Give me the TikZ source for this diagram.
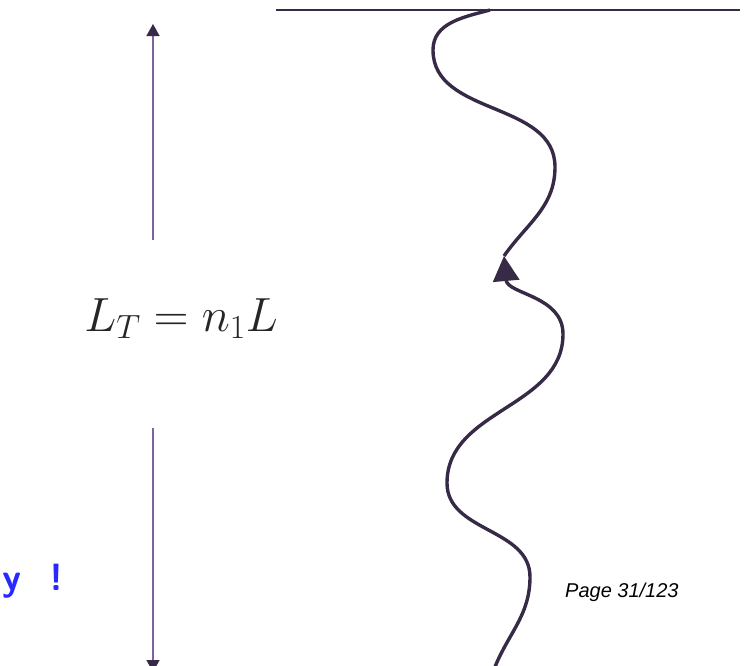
\RequirePackage{fix-cm}
\documentclass[tikz,border=0pt]{standalone}
\usepackage{fontspec}
\newfontfamily\pagefont{Liberation Sans}
\usetikzlibrary{arrows.meta}
\definecolor{curvecol}{RGB}{55,42,70}
\definecolor{guidecol}{RGB}{125,100,150}
\definecolor{bluetxt}{RGB}{40,40,255}
\tikzset{
  wave/.style={curvecol, line width=3.4pt},
  guide/.style={guidecol, line width=1.6pt},
  topline/.style={curvecol, line width=2.2pt},
}
\begin{document}
\begin{tikzpicture}[x=1pt,y=1pt]
\useasboundingbox (0,-665) rectangle (750,0);
% top horizontal line
\coordinate (hl) at (276,-10);
\coordinate (hr) at (740,-10);
\draw[topline] (hl) -- (hr);
% wavy path
\coordinate (w0) at (493,-672);
\coordinate (w1) at (530,-577);
\coordinate (w2) at (447,-483);
\coordinate (w3) at (563,-334);
\coordinate (tip) at (504,-256);
\coordinate (w5) at (555,-167);
\coordinate (w6) at (433,-50);
\coordinate (w7) at (490,-10);
\draw[wave, -{Triangle[length=25pt,width=26pt]}]
  (w0) to[out=70,in=-90] (w1)
       to[out=90,in=-90] (w2)
       to[out=90,in=-90] (w3)
       to[out=90,in=-85] (tip);
\draw[wave]
  (tip) to[out=55,in=-90] (w5)
        to[out=90,in=-90] (w6)
        to[out=90,in=195] (w7);
% left dimension arrows
\coordinate (a1) at (153,-240);
\coordinate (a1t) at (153,-24);
\coordinate (a2) at (153,-428);
\coordinate (a2t) at (153,-672);
\draw[guide, -{Triangle[length=12pt,width=13pt,color=curvecol]}] (a1) -- (a1t);
\draw[guide, -{Triangle[length=12pt,width=13pt,color=curvecol]}] (a2) -- (a2t);
% label
\node[anchor=base east, inner sep=0pt, text=black!85, font=\fontsize{48}{56}\selectfont] (lt) at (278,-331) {$L_T = n_1L$};
% page label
\node[anchor=base west, inner sep=0pt, font=\pagefont\itshape\fontsize{20}{24}\selectfont] (pg) at (565,-597) {Page 31/123};
% blue text
\node[anchor=base east, inner sep=0pt, text=bluetxt, font=\sffamily\bfseries\fontsize{38}{44}\selectfont] (yy) at (64,-590) {y\hspace{0.75em}!};
\end{tikzpicture}
\end{document}
